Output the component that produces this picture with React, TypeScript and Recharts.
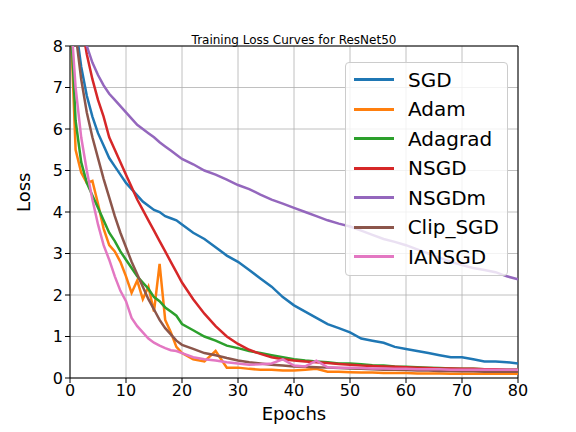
import React from "react";
import { LineChart, Line, XAxis, YAxis, CartesianGrid, ReferenceLine } from "recharts";

const epochs = [0,1,2,3,4,5,6,7,8,9,10,11,12,13,14,15,16,17,18,19,20,22,24,26,28,30,32,34,36,38,40,42,44,46,48,50,52,54,56,58,60,62,64,66,68,70,72,74,76,78,80];
const sgd = [10,8.5,7.5,6.8,6.3,5.9,5.6,5.3,5.1,4.9,4.7,4.55,4.4,4.25,4.15,4.05,4.0,3.9,3.85,3.8,3.7,3.5,3.35,3.15,2.95,2.8,2.6,2.4,2.2,1.95,1.75,1.6,1.45,1.3,1.2,1.1,0.95,0.9,0.85,0.75,0.7,0.65,0.6,0.55,0.5,0.5,0.45,0.4,0.4,0.38,0.35];
const adam = [9,5.5,4.95,4.7,4.75,4.2,3.6,3.2,3.05,2.8,2.45,2.05,2.35,1.9,2.2,1.6,2.75,1.4,1.1,0.75,0.6,0.45,0.4,0.65,0.25,0.25,0.22,0.2,0.2,0.18,0.18,0.2,0.22,0.15,0.15,0.14,0.13,0.13,0.12,0.12,0.12,0.11,0.11,0.11,0.1,0.1,0.1,0.1,0.1,0.1,0.1];
const adagrad = [9,6.2,5.2,4.7,4.4,4.1,3.8,3.5,3.3,3.05,2.85,2.65,2.45,2.3,2.15,1.95,1.85,1.7,1.6,1.5,1.3,1.15,1.0,0.9,0.78,0.72,0.65,0.6,0.55,0.5,0.45,0.42,0.4,0.38,0.35,0.35,0.33,0.31,0.3,0.28,0.27,0.26,0.25,0.24,0.23,0.22,0.22,0.21,0.2,0.2,0.2];
const nsgd = [11,10,8.6,7.8,7.2,6.7,6.3,5.8,5.5,5.2,4.9,4.6,4.3,4.05,3.8,3.55,3.3,3.05,2.8,2.55,2.3,1.9,1.55,1.25,1.0,0.82,0.68,0.58,0.5,0.45,0.42,0.4,0.38,0.36,0.34,0.32,0.3,0.29,0.28,0.27,0.26,0.25,0.24,0.23,0.23,0.22,0.22,0.21,0.21,0.2,0.2];
const nsgdm = [12,9.5,8.5,8.0,7.6,7.3,7.05,6.85,6.7,6.55,6.4,6.25,6.1,6.0,5.9,5.8,5.68,5.58,5.48,5.38,5.28,5.15,5.0,4.9,4.78,4.65,4.55,4.42,4.3,4.2,4.1,4.0,3.9,3.8,3.72,3.65,3.55,3.45,3.35,3.28,3.2,3.1,3.0,2.9,2.8,2.72,2.65,2.6,2.55,2.45,2.38];
const clipSgd = [10,8.3,7.2,6.4,5.8,5.3,4.8,4.35,3.9,3.5,3.15,2.8,2.5,2.2,1.9,1.65,1.4,1.2,1.05,0.9,0.8,0.7,0.6,0.55,0.48,0.42,0.38,0.35,0.32,0.3,0.28,0.27,0.26,0.25,0.24,0.23,0.22,0.21,0.2,0.2,0.19,0.18,0.18,0.17,0.17,0.16,0.16,0.15,0.15,0.15,0.15];
const iansgd = [9,7,5.8,5.0,4.3,3.7,3.2,2.85,2.45,2.1,1.85,1.45,1.25,1.1,0.95,0.85,0.78,0.72,0.67,0.65,0.6,0.5,0.45,0.42,0.38,0.35,0.32,0.33,0.35,0.45,0.3,0.28,0.42,0.26,0.25,0.25,0.24,0.23,0.23,0.22,0.22,0.21,0.21,0.21,0.2,0.2,0.2,0.2,0.2,0.2,0.2];

const xTicks = [0,10,20,30,40,50,60,70,80];
const yTicks = [0,1,2,3,4,5,6,7,8];

const series = [
  { key: "SGD", data: sgd, color: "#1f77b4" },
  { key: "Adam", data: adam, color: "#ff7f0e" },
  { key: "Adagrad", data: adagrad, color: "#2ca02c" },
  { key: "NSGD", data: nsgd, color: "#d62728" },
  { key: "NSGDm", data: nsgdm, color: "#9467bd" },
  { key: "Clip_SGD", data: clipSgd, color: "#8c564b" },
  { key: "IANSGD", data: iansgd, color: "#e377c2" },
];

const rows = epochs.map((e, i) => {
  const r: any = { epoch: e };
  series.forEach(s => { r[s.key] = s.data[i]; });
  return r;
});

const font = "DejaVu Sans, sans-serif";

export default function App() {
  return (
    <div style={{ position: "absolute", left: 0, top: 0, width: 576, height: 432, background: "#fff", fontFamily: font }}>
      <div style={{ position: "absolute", top: 33, left: 70, width: 448, textAlign: "center", fontSize: 12 }}>Training Loss Curves for ResNet50</div>
      <LineChart width={576} height={432} data={rows} margin={{ top: 46, right: 58, bottom: 14, left: 20 }}>
        <CartesianGrid stroke="#b0b0b0" strokeWidth={0.8} />
        <XAxis dataKey="epoch" type="number" domain={[0, 80]} ticks={xTicks} allowDataOverflow
          stroke="#000" tick={{ fill: "#000", fontSize: 16, fontFamily: font }} tickSize={5}
          label={{ value: "Epochs", position: "insideBottom", offset: -2, fontSize: 18, fill: "#000", fontFamily: font }} height={40} />
        <YAxis type="number" domain={[0, 8]} ticks={yTicks} allowDataOverflow width={50}
          stroke="#000" tick={{ fill: "#000", fontSize: 16, fontFamily: font }} tickSize={5}
          label={{ value: "Loss", angle: -90, position: "insideLeft", offset: 4, fontSize: 18, fill: "#000", fontFamily: font }} />
        <ReferenceLine y={8} stroke="#000" strokeWidth={1} />
        <ReferenceLine x={80} stroke="#000" strokeWidth={1} />
        {series.map(s => (
          <Line key={s.key} dataKey={s.key} stroke={s.color} strokeWidth={2.5} dot={false} isAnimationActive={false} />
        ))}
      </LineChart>
      <div style={{ position: "absolute", left: 345, top: 62, width: 163, height: 214, background: "rgba(255,255,255,0.8)", border: "1px solid #ccc", borderRadius: 4, boxSizing: "border-box", padding: "2px 8px" }}>
        {series.map(s => (
          <div key={s.key} style={{ display: "flex", alignItems: "center", height: 29.5, fontSize: 20 }}>
            <div style={{ width: 40, height: 3, background: s.color, marginRight: 14 }} />
            <span>{s.key}</span>
          </div>
        ))}
      </div>
    </div>
  );
}
